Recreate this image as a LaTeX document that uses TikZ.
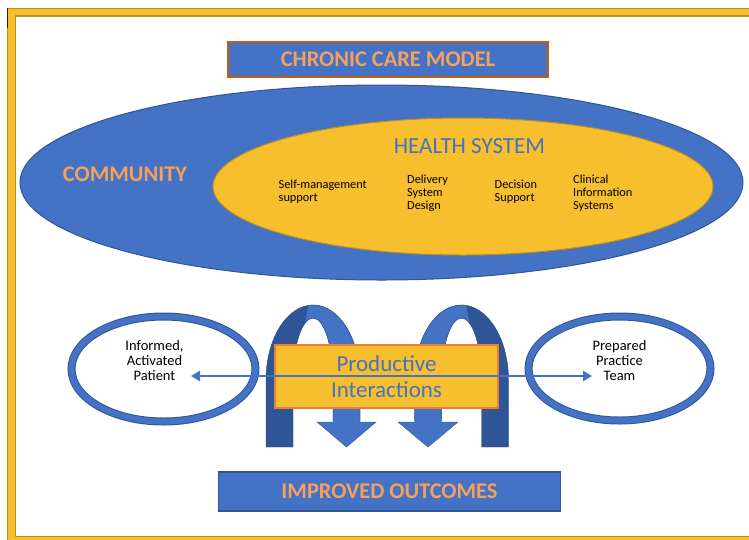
\documentclass[tikz,border=0pt]{standalone}
\usepackage{fontspec}
\setmainfont{Carlito}
\usetikzlibrary{arrows.meta}

\definecolor{ccBlue}{RGB}{68,114,196}
\definecolor{ccDark}{RGB}{47,85,151}
\definecolor{ccGold}{RGB}{247,190,46}
\definecolor{ccGoldEdge}{RGB}{190,145,30}
\definecolor{ccOrange}{RGB}{237,125,49}
\definecolor{ccRust}{RGB}{197,90,17}
\definecolor{ccLabel}{RGB}{246,160,90}

\begin{document}
\begin{tikzpicture}[
  x=1pt,y=-1pt,
  banner/.style={draw=#1,line width=1.3pt,fill=ccBlue,inner sep=0pt},
  wordart/.style={text=ccLabel,font=\bfseries\fontsize{22.4}{26}\selectfont},
  item/.style={align=left,anchor=west,inner sep=0pt,font=\fontsize{12.3}{13}\selectfont},
  ringtxt/.style={align=center,inner sep=0pt,font=\fontsize{14.5}{15}\selectfont},
  ring/.style={draw=ccDark,line width=8pt},
  ringface/.style={draw=ccBlue,line width=6pt},
  back/.style={fill=ccDark,draw=ccDark!85!black,line width=0.4pt},
  front/.style={fill=ccBlue,draw=ccDark,line width=0.4pt},
  link/.style={draw=ccBlue,line width=2.8pt,{Triangle[length=9pt,width=10pt]}-{Triangle[length=9pt,width=10pt]}}
]
\useasboundingbox (0,0) rectangle (749,539);
\clip (0,0) rectangle (749,539);

% ---- page frame ----
\draw[ccGoldEdge,line width=9pt] (11.5,12) rectangle (770,540);
\draw[ccGold,line width=6.5pt] (11.5,12) rectangle (770,540);
\draw[black!75!brown,line width=1.2pt] (7.5,8) -- (7.5,28);

% ---- title ----
\node[banner=ccRust,minimum width=320pt,minimum height=35pt] (titlebox) at (388,59.5) {};
\node[wordart] (title) at (titlebox) {CHRONIC CARE MODEL};

% ---- community and health system ----
\draw[fill=ccBlue,draw=ccDark,line width=1pt] (381.5,182.5) ellipse [x radius=361.5,y radius=97.5];
\draw[fill=ccGold,draw=ccGoldEdge,line width=1pt] (463,186.5) ellipse [x radius=250,y radius=68.5];
\node[wordart] (community) at (125,174) {COMMUNITY};
\node[text=ccBlue,font=\fontsize{23}{27}\selectfont] (health) at (469.5,146) {HEALTH SYSTEM};

\node[item] (selfmgmt) at (278.5,192) {Self-management\\support};
\node[item] (delivery) at (407,193) {Delivery\\System\\Design};
\node[item] (decision) at (494.5,192) {Decision\\Support};
\node[item] (clinical) at (573,193) {Clinical\\Information\\Systems};

% ---- patient and practice team ----
\draw[ring] (163.5,369) ellipse [x radius=92,y radius=52.5];
\draw[ringface] (163.5,369) ellipse [x radius=92,y radius=52.5];
\draw[ring] (619.5,368.5) ellipse [x radius=91,y radius=52];
\draw[ringface] (619.5,368.5) ellipse [x radius=91,y radius=52];
\node[ringtxt] (patient) at (154.5,361) {Informed,\\Activated\\Patient};
\node[ringtxt] (team) at (619.5,361) {Prepared\\Practice\\Team};

% ---- the two curved arrows ----
\path[back] (266,447) -- (266,380) arc[start angle=180,end angle=360,x radius=47,y radius=75]
  -- (360,420) -- (333,420) -- (333,380) arc[start angle=360,end angle=180,x radius=20,y radius=62]
  -- (293,447) -- cycle;
\path[front] (308,305.5) arc[start angle=264,end angle=360,x radius=47,y radius=75]
  -- (360,422) -- (376,422) -- (346.5,447) -- (317,422) -- (333,422)
  -- (333,380) arc[start angle=360,end angle=245,x radius=20,y radius=62] -- cycle;

\path[back] (508.5,447) -- (508.5,380) arc[start angle=360,end angle=180,x radius=47,y radius=75]
  -- (414.5,420) -- (441.5,420) -- (441.5,380) arc[start angle=180,end angle=360,x radius=20,y radius=62]
  -- (481.5,447) -- cycle;
\path[front] (466.5,305.5) arc[start angle=276,end angle=180,x radius=47,y radius=75]
  -- (414.5,422) -- (398,422) -- (428,447) -- (458,422) -- (441.5,422)
  -- (441.5,380) arc[start angle=180,end angle=295,x radius=20,y radius=62] -- cycle;

% ---- productive interactions ----
\node[draw=ccOrange,line width=1.6pt,fill=ccGold,minimum width=223pt,minimum height=63pt,
      align=center,text=ccBlue,font=\fontsize{23}{26}\selectfont] (interact) at (386.5,376.5)
  {Productive\\Interactions};
\coordinate (toPatient) at (191,376);
\coordinate (toTeam) at (592,376);
\draw[link] (toPatient) -- (toTeam);

% ---- outcomes ----
\node[banner=ccDark,minimum width=342pt,minimum height=39pt] (outbox) at (389.5,491.5) {};
\node[wordart] (outcomes) at (outbox) {IMPROVED OUTCOMES};

\end{tikzpicture}
\end{document}
